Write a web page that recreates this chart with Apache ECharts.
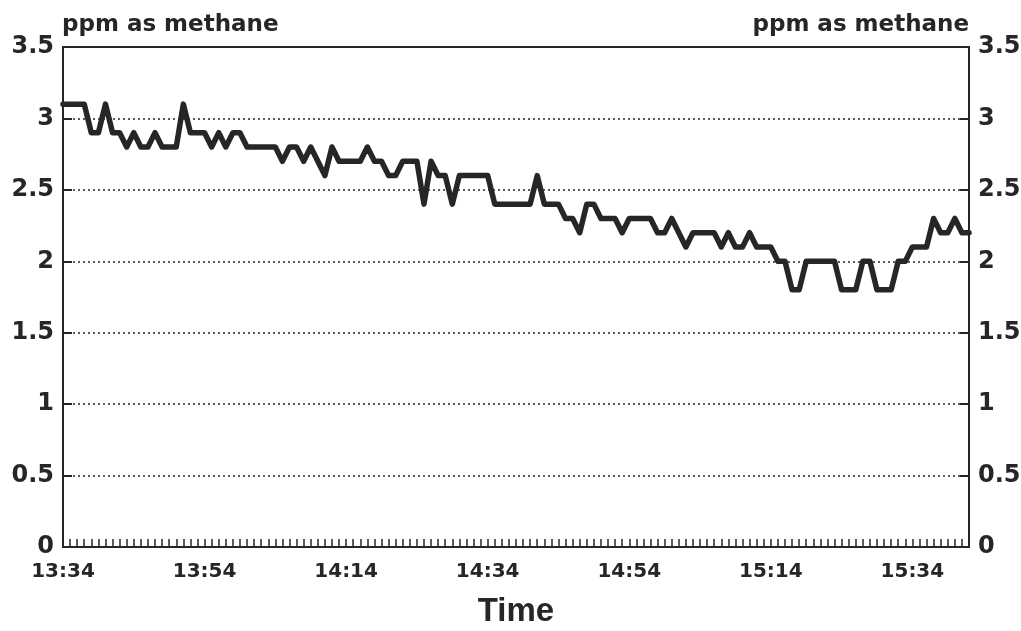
<!DOCTYPE html>
<html>
<head>
<meta charset="utf-8">
<script src="https://cdn.jsdelivr.net/npm/echarts@6/dist/echarts.min.js"></script>
<style>html,body{margin:0;padding:0;background:#fff;}#c{width:1021px;height:631px;}</style>
</head>
<body>
<div id="c"></div>
<script>
// Time axis: one reading per minute from 13:34 to 15:42
var startHour = 13, startMinute = 34, pointCount = 129;
var categories = [];
for (var i = 0; i < pointCount; i++) {
  var t = startHour * 60 + startMinute + i;
  var h = Math.floor(t / 60), m = t % 60;
  categories.push(h + ':' + (m < 10 ? '0' + m : m));
}
// Methane concentration (ppm as methane)
var methane = [
  3.1, 3.1, 3.1, 3.1, 2.9, 2.9, 3.1, 2.9, 2.9, 2.8,
  2.9, 2.8, 2.8, 2.9, 2.8, 2.8, 2.8, 3.1, 2.9, 2.9,
  2.9, 2.8, 2.9, 2.8, 2.9, 2.9, 2.8, 2.8, 2.8, 2.8,
  2.8, 2.7, 2.8, 2.8, 2.7, 2.8, 2.7, 2.6, 2.8, 2.7,
  2.7, 2.7, 2.7, 2.8, 2.7, 2.7, 2.6, 2.6, 2.7, 2.7,
  2.7, 2.4, 2.7, 2.6, 2.6, 2.4, 2.6, 2.6, 2.6, 2.6,
  2.6, 2.4, 2.4, 2.4, 2.4, 2.4, 2.4, 2.6, 2.4, 2.4,
  2.4, 2.3, 2.3, 2.2, 2.4, 2.4, 2.3, 2.3, 2.3, 2.2,
  2.3, 2.3, 2.3, 2.3, 2.2, 2.2, 2.3, 2.2, 2.1, 2.2,
  2.2, 2.2, 2.2, 2.1, 2.2, 2.1, 2.1, 2.2, 2.1, 2.1,
  2.1, 2.0, 2.0, 1.8, 1.8, 2.0, 2.0, 2.0, 2.0, 2.0,
  1.8, 1.8, 1.8, 2.0, 2.0, 1.8, 1.8, 1.8, 2.0, 2.0,
  2.1, 2.1, 2.1, 2.3, 2.2, 2.2, 2.3, 2.2, 2.2
];
var yAxisTitle = 'ppm as methane';
var xAxisTitle = 'Time';
var yMin = 0, yMax = 3.5, yStep = 0.5;
var labelEvery = 20;

var ink = '#262626';
var numFont = 'DejaVu Sans';
var chart = echarts.init(document.getElementById('c'), null, {renderer: 'canvas'});
var yAxisCommon = {
  type: 'value', min: yMin, max: yMax, interval: yStep,
  axisLine: {show: true, lineStyle: {color: ink, width: 2}},
  axisTick: {show: true, inside: true, length: 9, lineStyle: {color: ink, width: 2}},
  axisLabel: {color: ink, fontFamily: numFont, fontWeight: 'bold', fontSize: 24, margin: 9}
};
chart.setOption({
  animation: false,
  backgroundColor: '#fff',
  title: [
    {text: yAxisTitle, left: 62, top: 14, padding: 0,
     textStyle: {color: ink, fontFamily: numFont, fontWeight: 'bold', fontSize: 23}},
    {text: yAxisTitle, right: 52, top: 14, padding: 0,
     textStyle: {color: ink, fontFamily: numFont, fontWeight: 'bold', fontSize: 23}}
  ],
  grid: {left: 63, right: 52, top: 47, bottom: 84, show: true, borderColor: ink, borderWidth: 2,
         containLabel: false, outerBoundsMode: 'none'},
  xAxis: {
    type: 'category', data: categories, boundaryGap: false,
    name: xAxisTitle, nameLocation: 'middle', nameGap: 48,
    nameTextStyle: {color: ink, fontFamily: 'Liberation Sans', fontWeight: 'bold', fontSize: 33},
    axisLine: {show: true, lineStyle: {color: ink, width: 2}},
    axisTick: {show: true, inside: true, length: 8, interval: 0, alignWithLabel: true, lineStyle: {color: ink, width: 1.5}},
    axisLabel: {interval: labelEvery - 1, color: ink, fontFamily: numFont, fontWeight: 'bold', fontSize: 20, margin: 15},
    splitLine: {show: false}
  },
  yAxis: [
    Object.assign({}, yAxisCommon, {position: 'left',
      splitLine: {show: true, lineStyle: {color: ink, width: 1.5, type: [2, 3]}}}),
    Object.assign({}, yAxisCommon, {position: 'right', splitLine: {show: false}})
  ],
  series: [{
    type: 'line', data: methane, yAxisIndex: 0,
    showSymbol: false, symbol: 'none', smooth: false,
    lineStyle: {color: ink, width: 5.5, join: 'round', cap: 'round'}
  }]
});
</script>
</body>
</html>
